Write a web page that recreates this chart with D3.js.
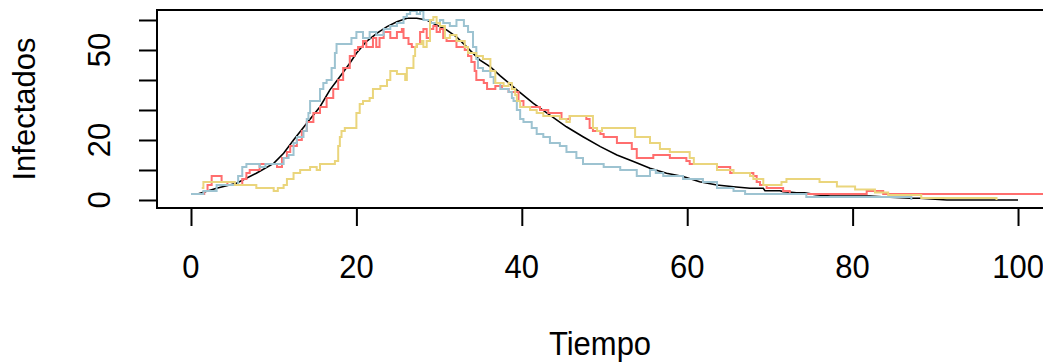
<!DOCTYPE html>
<html>
<head>
<meta charset="utf-8">
<script src="https://cdn.jsdelivr.net/npm/d3@7"></script>
<style>
  body { margin: 0; background: #fff; }
  text { font-family: "Liberation Sans", Arial, sans-serif; fill: #000; }
</style>
</head>
<body>
<svg id="c" width="1043" height="362"></svg>
<script>
// ---- data (time, infected) ----
const xTicks = [0, 20, 40, 60, 80, 100];
const yTicks = [0, 10, 20, 30, 40, 50, 60];
const yLabels = [0, 20, 50];
const xTitle = "Tiempo";
const yTitle = "Infectados";

const blackCurve = [
  [0.8, 2.0], [3.1, 3.9], [5.5, 5.6], [7.9, 8.9], [10, 12.2], [11.2, 15.6], [12.4, 20],
  [14, 25.6], [15.6, 31.1], [16.8, 36.7], [18, 41.1], [19.2, 45.6], [20, 48.9], [21.2, 52.8],
  [22.5, 55.6], [23.7, 57.8], [24.9, 59.4], [26.1, 60.6], [27.3, 60.6], [28.5, 60], [29.7, 58.3],
  [30.9, 56.7], [32.1, 54.4], [33.3, 51.1], [34.9, 46.7], [36.2, 44.4], [37.4, 41.4], [39.4, 36.7],
  [41.4, 32.2], [43.4, 28.3], [45.4, 24.4], [47.4, 21.1], [49.5, 17.8], [51.5, 15], [53.5, 12.8],
  [55.5, 10.6], [57.5, 8.9], [59.5, 7.8], [61.5, 6.1], [63.6, 5], [65.6, 4.4], [67.6, 3.9],
  [69.2, 3.9], [69.4, 3.1], [71.2, 3.1], [71.6, 2.8], [73.2, 2.4], [74.2, 2.4], [75.5, 1.8],
  [77.3, 1.3], [82.1, 1.3], [84.5, 0.9], [87.1, 0.6], [88.1, 0.6], [91.4, 0], [100, 0]
];

const redRun = [
  [0.8, 2], [1.6, 3], [2.0, 5], [2.5, 8], [3.7, 6], [4.4, 5], [6.2, 7], [6.7, 9], [7.1, 10], [8.3, 12],
  [10.4, 11], [11.0, 14], [11.6, 16], [12.0, 18], [12.8, 20], [13.4, 23], [14.0, 26], [14.8, 29], [15.6, 31], [16.4, 34],
  [17.2, 37], [17.8, 40], [18.4, 44], [19.2, 48], [19.8, 50], [20.2, 51], [20.8, 53], [21.2, 51], [22.0, 54], [22.4, 51],
  [22.8, 54], [23.3, 56], [24.1, 54], [24.9, 56], [25.5, 57], [25.7, 54], [26.3, 52], [26.7, 51], [27.3, 52], [27.7, 56],
  [28.1, 57], [28.5, 54], [28.9, 57], [29.3, 58], [29.7, 56], [30.1, 57], [30.5, 54], [30.9, 53], [32.1, 51], [33.1, 50],
  [33.5, 48], [33.9, 46], [34.3, 43], [34.5, 40], [35.4, 39], [35.8, 37], [36.8, 38], [37.6, 37], [38.4, 36], [39.6, 33],
  [40.2, 31], [42.2, 30], [43.2, 29], [44.8, 27], [45.8, 28], [47.8, 27], [48.2, 24], [48.6, 23], [49.5, 22], [49.9, 21],
  [51.5, 19], [53.3, 17], [53.9, 14], [55.9, 15], [57.9, 14], [59.9, 13], [60.3, 12], [63.6, 11], [65.2, 9], [68.0, 8],
  [68.4, 6], [68.8, 5], [69.6, 4], [71.6, 3], [72.4, 2], [81.7, 3], [83.7, 2], [104, 2]
];

const blueRun = [
  [0, 2], [1.5, 3], [3.1, 5], [5.7, 8], [6.2, 11], [6.7, 12], [8.3, 11], [9.0, 12], [11.2, 14], [11.8, 15],
  [12.4, 19], [12.8, 21], [13.6, 23], [14.0, 27], [14.2, 29], [14.4, 33], [15.6, 37], [16.0, 39], [16.4, 40], [17.0, 44],
  [17.4, 49], [17.6, 52], [19.4, 54], [20.0, 56], [20.8, 54], [21.6, 56], [22.4, 55], [23.3, 57], [24.1, 58], [24.9, 59],
  [25.7, 61], [26.1, 62], [26.5, 63], [27.3, 62], [27.7, 63], [28.1, 60], [28.9, 59], [30.1, 60], [30.5, 59], [31.3, 58],
  [32.1, 60], [33.0, 58], [33.5, 56], [34.1, 51], [34.5, 47], [34.7, 44], [35.3, 43], [36.2, 41], [36.6, 39], [37.4, 37],
  [38.4, 36], [38.8, 34], [39.0, 33], [39.4, 30], [39.8, 27], [40.2, 26], [41.2, 24], [41.8, 22], [42.6, 21], [43.4, 19],
  [44.6, 18], [45.4, 16], [46.6, 14], [47.4, 12], [49.9, 11], [51.9, 10], [53.9, 8], [55.5, 10], [56.2, 9], [57.1, 8],
  [59.5, 7], [61.9, 6], [63.6, 4], [65.6, 3], [67.0, 2], [74.4, 1], [87.1, 0]
];

const yellowRun = [
  [1.3, 4], [1.5, 6], [5.3, 5], [7.9, 4], [10.0, 3], [10.5, 4], [11.2, 5], [11.6, 7], [12.4, 9], [13.2, 10],
  [14.4, 11], [15.2, 10], [15.6, 12], [17.4, 13], [17.8, 18], [18.0, 21], [18.2, 23], [18.6, 24], [20.0, 29], [20.4, 32],
  [20.8, 33], [21.6, 34], [22.0, 37], [22.9, 38], [23.7, 40], [24.1, 43], [24.9, 42], [25.9, 40], [26.1, 44], [26.9, 48],
  [27.1, 51], [27.3, 52], [27.9, 53], [28.1, 51], [28.5, 53], [28.9, 60], [29.3, 61], [29.7, 59], [30.1, 58], [30.7, 54],
  [31.3, 55], [32.1, 53], [33.1, 51], [33.5, 49], [34.5, 48], [35.3, 47], [36.2, 43], [36.8, 39], [37.8, 38], [38.4, 39],
  [38.8, 37], [39.2, 35], [39.4, 33], [39.8, 31], [41.0, 30], [41.8, 29], [42.6, 28], [44.6, 27], [45.4, 26], [45.8, 28],
  [48.6, 24], [49.1, 23], [49.7, 24], [53.7, 21], [55.5, 19], [56.7, 17], [57.9, 16], [60.3, 14], [60.8, 12], [63.6, 10],
  [65.6, 9], [67.6, 8], [68.0, 7], [69.2, 5], [71.4, 6], [72.0, 7], [76.0, 6], [78.1, 4.5], [80.3, 3.5], [82.7, 2.5],
  [84.3, 1.7], [88.3, 0.7], [97.4, 0]
];

const runs = [
  { name: "red", data: redRun, color: "#FF6E6E" },
  { name: "blue", data: blueRun, color: "#9DC3D1" },
  { name: "yellow", data: yellowRun, color: "#EAD57C" }
];

// ---- drawing ----
const W = 1043, H = 362;
const plot = { left: 157, top: 10, right: 1043, bottom: 208 };

const svg = d3.select("#c");
svg.append("rect").attr("width", W).attr("height", H).attr("fill", "#fff");

const x = d3.scaleLinear().domain([-4.11, 103.02]).range([plot.left, plot.right]);
const y = d3.scaleLinear().domain([-2.67, 63.33]).range([plot.bottom, plot.top]);

svg.append("defs").append("clipPath").attr("id", "clip")
  .append("rect").attr("x", plot.left).attr("y", plot.top)
  .attr("width", plot.right - plot.left).attr("height", plot.bottom - plot.top);

const g = svg.append("g").attr("clip-path", "url(#clip)");

const smooth = d3.line().x(d => x(d[0])).y(d => y(d[1]));
const stair = d3.line().x(d => x(d[0])).y(d => y(d[1])).curve(d3.curveStepAfter);

g.append("path").datum(blackCurve).attr("d", smooth)
  .attr("fill", "none").attr("stroke", "#000").attr("stroke-width", 1.6);

runs.forEach(r => {
  g.append("path").datum(r.data).attr("d", stair)
    .attr("fill", "none").attr("stroke", r.color).attr("stroke-width", 2)
    .attr("stroke-linejoin", "miter");
});

// box
svg.append("rect")
  .attr("x", plot.left).attr("y", plot.top)
  .attr("width", plot.right - plot.left + 4).attr("height", plot.bottom - plot.top)
  .attr("fill", "none").attr("stroke", "#000").attr("stroke-width", 2);

// axes
const xAxis = svg.append("g").attr("transform", `translate(0,${plot.bottom})`)
  .call(d3.axisBottom(x).tickValues(xTicks).tickSize(18).tickSizeOuter(0).tickFormat(""));
xAxis.select(".domain").remove();
xAxis.selectAll("line").attr("stroke", "#000").attr("stroke-width", 2);

const yAxis = svg.append("g").attr("transform", `translate(${plot.left},0)`)
  .call(d3.axisLeft(y).tickValues(yTicks).tickSize(18).tickSizeOuter(0).tickFormat(""));
yAxis.select(".domain").remove();
yAxis.selectAll("line").attr("stroke", "#000").attr("stroke-width", 2);

const fs = 31;
svg.selectAll("text.xl").data(xTicks).join("text").attr("class", "xl")
  .attr("transform", d => `translate(${x(d)},278) scale(1,1.1)`)
  .attr("text-anchor", "middle").attr("font-size", fs).text(d => d);

svg.selectAll("text.yl").data(yLabels).join("text").attr("class", "yl")
  .attr("transform", d => `translate(110,${y(d)}) rotate(-90)`)
  .attr("text-anchor", "middle").attr("font-size", fs).text(d => d);

svg.append("text")
  .attr("transform", `translate(600,355) scale(1,1.1)`)
  .attr("text-anchor", "middle").attr("font-size", fs).text(xTitle);

svg.append("text")
  .attr("transform", `translate(35,109) rotate(-90)`)
  .attr("text-anchor", "middle").attr("font-size", fs).text(yTitle);
</script>
</body>
</html>
